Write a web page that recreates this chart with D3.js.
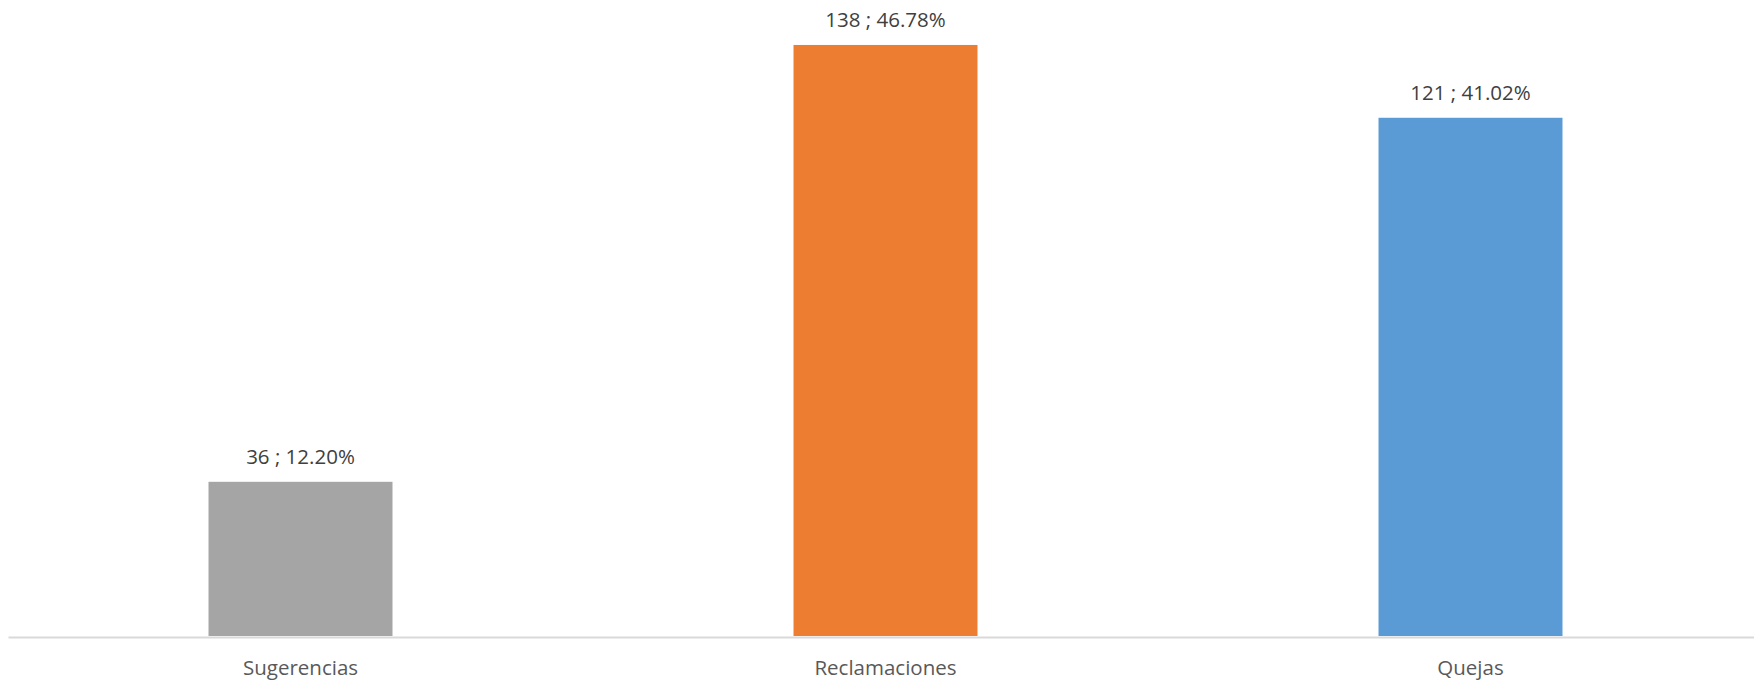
<!DOCTYPE html>
<html>
<head>
<meta charset="utf-8">
<script src="https://cdn.jsdelivr.net/npm/d3@7"></script>
<style>
  body { margin: 0; background: #ffffff; }
  svg { display: block; font-family: "Open Sans", sans-serif; }
</style>
</head>
<body>
<div id="chart"></div>
<script>
categories = ["Sugerencias", "Reclamaciones", "Quejas"];
counts = [36, 138, 121];
percents = [12.20, 46.78, 41.02];
barColours = ["#A5A5A5", "#ED7D31", "#5B9BD5"];

width = 1754;
height = 680;
axisY = 636;

svg = d3.select("#chart").append("svg")
    .attr("width", width)
    .attr("height", height)

x = d3.scaleBand()
    .domain(categories)
    .range([8, 1763])
    .paddingInner(0.6855)
    .paddingOuter(0.34275)

y = d3.scaleLinear()
    .domain([0, 148.5])
    .range([axisY, 0])

// bars
svg.selectAll("rect.bar")
    .data(categories).enter()
    .append("rect")
    .attr("class", "bar")
    .attr("x", (d) => x(d))
    .attr("width", x.bandwidth())
    .attr("y", (d, i) => y(counts[i]))
    .attr("height", (d, i) => y(0) - y(counts[i]))
    .attr("fill", (d, i) => barColours[i])

// data labels
svg.selectAll("text.label")
    .data(categories).enter()
    .append("text")
    .attr("class", "label")
    .attr("x", (d) => x(d) + x.bandwidth() / 2)
    .attr("y", (d, i) => y(counts[i]) - 17.5)
    .attr("text-anchor", "middle")
    .style("font-size", "20.5px")
    .style("fill", "#404040")
    .text((d, i) => counts[i] + " ; " + percents[i].toFixed(2) + "%")

// category axis
xAxis = svg.append("g")
    .attr("transform", "translate(0," + (axisY + 1) + ")")
    .call(d3.axisBottom(x).tickSize(0))
xAxis.select(".domain")
    .attr("stroke", "#D9D9D9")
    .attr("stroke-width", 2)
xAxis.selectAll(".tick text")
    .attr("y", 38)
    .attr("dy", 0)
    .style("font-size", "20.5px")
    .style("font-family", "'Open Sans', sans-serif")
    .style("fill", "#595959")
</script>
</body>
</html>
